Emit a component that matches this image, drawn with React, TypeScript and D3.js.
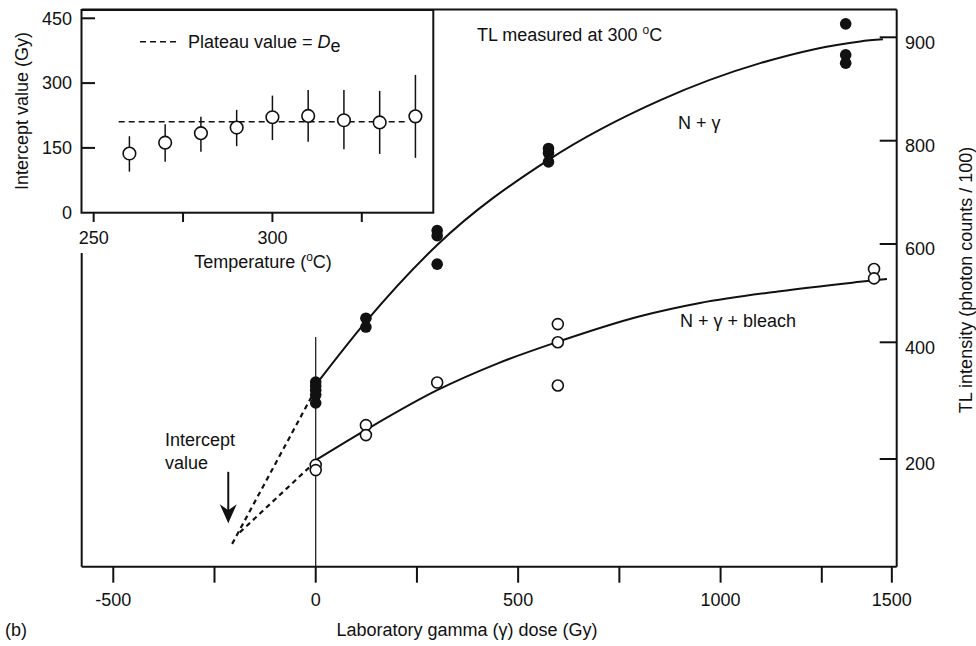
import React from "react";
import * as d3 from "d3";

const W = 976;
const H = 646;
const FONT = "'Liberation Sans', Arial, Helvetica, sans-serif";

// ---------- Main chart data ----------
const doseTicks = [-500, -250, 0, 250, 500, 750, 1000, 1250, 1423];
const doseTickLabels = ["-500", "", "0", "", "500", "", "1000", "", "1500"];
const tlTicks = [200, 400, 600, 800, 900];
const tlTickLabels = ["200", "400", "600", "800", "900"];

const filledDose = [0, 0, 0, 0, 0, 124, 124, 300, 300, 300, 575, 575, 575, 1309, 1309, 1309];
const filledTL = [332, 325, 318, 310, 296, 449, 431, 626, 616, 559, 785, 776, 759, 913, 883, 875];

const openDose = [0, 0, 124, 124, 300, 598, 598, 598, 1379, 1379];
const openTL = [190, 181, 258, 241, 331, 437, 400, 326, 549, 530];

const upperCurveDose = [0, 124, 300, 575, 850, 1098, 1345, 1401];
const upperCurveTL = [327, 442, 598, 763, 839, 875, 896, 898];
const lowerCurveDose = [0, 124, 300, 450, 598, 801, 949, 1147, 1344, 1411];
const lowerCurveTL = [198, 250, 318, 364, 401, 453, 480, 504, 523, 529];

const upperExtrapDose = [0, -210];
const upperExtrapTL = [320, 50];
const lowerExtrapDose = [0, -194];
const lowerExtrapTL = [196, 70];

const zeroLineTL = 411;
const arrowDose = -216;
const arrowTL = [178, 90];

// ---------- Inset data ----------
const insetTemps = [260, 270, 280, 290, 300, 310, 320, 330, 340];
const insetValues = [137, 162, 184, 197, 221, 224, 214, 209, 223];
const insetLower = [95, 118, 141, 154, 168, 164, 147, 136, 127];
const insetUpper = [177, 205, 222, 238, 271, 284, 284, 282, 319];
const plateauValue = 210.5;
const plateauRange = [257, 337];
const insetXTicks = [250, 275, 300, 325];
const insetXTickLabels = ["250", "", "300", ""];
const insetYTicks = [0, 150, 300, 450];

export default function App() {
  // main scales
  const x = d3.scaleLinear().domain([-578, 1435]).range([81.7, 896.7]);
  const y = d3
    .scaleLinear()
    .domain([200, 400, 600, 800, 900])
    .range([459, 342.3, 244, 140.7, 37.3]);

  // inset scales
  const ix = d3.scaleLinear().domain([246.6, 345]).range([81.5, 433.3]);
  const iy = d3.scaleLinear().domain([0, 450]).range([212.7, 18.3]);

  const frameTop = 9.5;
  const frameBottom = 566.7;
  const frameLeft = 81.7;
  const frameRight = 896.7;

  const line = d3
    .line<[number, number]>()
    .x((d) => x(d[0]))
    .y((d) => y(d[1]))
    .curve(d3.curveMonotoneX);
  const straight = d3
    .line<[number, number]>()
    .x((d) => x(d[0]))
    .y((d) => y(d[1]));

  const upperPts = upperCurveDose.map((d, i) => [d, upperCurveTL[i]] as [number, number]);
  const lowerPts = lowerCurveDose.map((d, i) => [d, lowerCurveTL[i]] as [number, number]);
  const upperEx = upperExtrapDose.map((d, i) => [d, upperExtrapTL[i]] as [number, number]);
  const lowerEx = lowerExtrapDose.map((d, i) => [d, lowerExtrapTL[i]] as [number, number]);

  const ax = x(arrowDose);
  const ay0 = y(arrowTL[0]);
  const ay1 = y(arrowTL[1]);

  const txt = { fontFamily: FONT, fontSize: 18, fill: "#111" } as const;

  return (
    <svg
      width={W}
      height={H}
      viewBox={`0 0 ${W} ${H}`}
      style={{ position: "absolute", left: 0, top: 0, background: "#fff" }}
    >
      <rect x={0} y={0} width={W} height={H} fill="#fff" />

      {/* ---------- main frame ---------- */}
      <g stroke="#111" strokeWidth={2} fill="none">
        <line x1={frameLeft} x2={frameRight} y1={frameTop} y2={frameTop} />
        <line x1={frameRight} x2={frameRight} y1={frameTop} y2={frameBottom} />
        <line x1={frameLeft} x2={frameRight} y1={frameBottom} y2={frameBottom} />
        <line x1={frameLeft} x2={frameLeft} y1={253} y2={frameBottom} />
      </g>

      {/* bottom ticks */}
      {doseTicks.map((t, i) => (
        <g key={"xt" + i}>
          <line x1={x(t)} x2={x(t)} y1={frameBottom} y2={frameBottom + 16} stroke="#111" strokeWidth={2} />
          {doseTickLabels[i] && (
            <text x={x(t)} y={606} textAnchor="middle" {...txt}>
              {doseTickLabels[i]}
            </text>
          )}
        </g>
      ))}
      <text x={467} y={636} textAnchor="middle" {...txt}>
        Laboratory gamma (γ) dose (Gy)
      </text>
      <text x={5} y={636} {...txt}>
        (b)
      </text>

      {/* right ticks */}
      {tlTicks.map((t, i) => (
        <g key={"yt" + i}>
          <line x1={frameRight - 17} x2={frameRight} y1={y(t)} y2={y(t)} stroke="#111" strokeWidth={2} />
          <text x={905} y={y(t) + 5} dy="0.35em" {...txt}>
            {tlTickLabels[i]}
          </text>
        </g>
      ))}
      <text
        transform={`translate(966, 280) rotate(-90)`}
        textAnchor="middle"
        dy="0.35em"
        {...txt}
      >
        TL intensity (photon counts / 100)
      </text>

      {/* zero dose vertical line */}
      <line x1={x(0)} x2={x(0)} y1={y(zeroLineTL)} y2={frameBottom} stroke="#111" strokeWidth={1.2} />

      {/* curves */}
      <path d={line(upperPts) || ""} fill="none" stroke="#111" strokeWidth={2} />
      <path d={line(lowerPts) || ""} fill="none" stroke="#111" strokeWidth={2} />
      <path d={straight(upperEx) || ""} fill="none" stroke="#111" strokeWidth={2.2} strokeDasharray="5,4" />
      <path d={straight(lowerEx) || ""} fill="none" stroke="#111" strokeWidth={2.2} strokeDasharray="5,4" />

      {/* points */}
      {openDose.map((d, i) => (
        <circle key={"o" + i} cx={x(d)} cy={y(openTL[i])} r={5.5} fill="#fff" stroke="#111" strokeWidth={1.6} />
      ))}
      {filledDose.map((d, i) => (
        <circle key={"f" + i} cx={x(d)} cy={y(filledTL[i])} r={5.8} fill="#111" />
      ))}

      {/* annotations */}
      <text x={477} y={41} {...txt}>
        TL measured at 300{" "}
        <tspan fontSize={12} dy={-7}>o</tspan>
        <tspan dy={7}>C</tspan>
      </text>
      <text x={678} y={129} {...txt}>
        N + γ
      </text>
      <text x={680} y={327} {...txt}>
        N + γ + bleach
      </text>
      <text x={165} y={446} {...txt}>
        Intercept
      </text>
      <text x={165} y={469} {...txt}>
        value
      </text>
      <line x1={ax} x2={ax} y1={ay0} y2={ay1 - 10} stroke="#111" strokeWidth={2} />
      <path
        d={`M${ax},${ay1} L${ax - 8.5},${ay1 - 19} L${ax},${ay1 - 13} L${ax + 8.5},${ay1 - 19} Z`}
        fill="#111"
      />

      {/* ---------- inset ---------- */}
      <rect x={81.5} y={10} width={433.3 - 81.5} height={212.7 - 10} fill="#fff" stroke="#111" strokeWidth={2} />
      {insetYTicks.map((t, i) => (
        <g key={"iyt" + i}>
          {t !== 0 && (
            <line x1={81.5} x2={95} y1={iy(t)} y2={iy(t)} stroke="#111" strokeWidth={2} />
          )}
          <text x={72} y={iy(t)} dy="0.35em" textAnchor="end" {...txt}>
            {t}
          </text>
        </g>
      ))}
      {insetXTicks.map((t, i) => (
        <g key={"ixt" + i}>
          <line x1={ix(t)} x2={ix(t)} y1={212.7} y2={222} stroke="#111" strokeWidth={2} />
          {insetXTickLabels[i] && (
            <text x={ix(t)} y={238} dy="0.35em" textAnchor="middle" {...txt}>
              {insetXTickLabels[i]}
            </text>
          )}
        </g>
      ))}
      <text x={263} y={268} textAnchor="middle" {...txt}>
        Temperature (<tspan fontSize={12} dy={-7}>o</tspan>
        <tspan dy={7}>C)</tspan>
      </text>
      <text transform="translate(22, 111) rotate(-90)" textAnchor="middle" dy="0.35em" {...txt}>
        Intercept value (Gy)
      </text>

      {/* plateau line */}
      <line
        x1={ix(plateauRange[0])}
        x2={ix(plateauRange[1])}
        y1={iy(plateauValue)}
        y2={iy(plateauValue)}
        stroke="#111"
        strokeWidth={1.5}
        strokeDasharray="6,4"
      />
      {/* error bars */}
      {insetTemps.map((t, i) => (
        <line
          key={"eb" + i}
          x1={ix(t)}
          x2={ix(t)}
          y1={iy(insetLower[i])}
          y2={iy(insetUpper[i])}
          stroke="#111"
          strokeWidth={1.5}
        />
      ))}
      {insetTemps.map((t, i) => (
        <circle key={"ip" + i} cx={ix(t)} cy={iy(insetValues[i])} r={6.3} fill="#fff" stroke="#111" strokeWidth={1.6} />
      ))}

      {/* legend */}
      <line x1={140} x2={178} y1={41.7} y2={41.7} stroke="#111" strokeWidth={1.5} strokeDasharray="6,4" />
      <text x={188} y={48} {...txt}>
        Plateau value ={" "}
        <tspan fontStyle="italic">D</tspan>
        <tspan dy={4}>e</tspan>
      </text>
    </svg>
  );
}
